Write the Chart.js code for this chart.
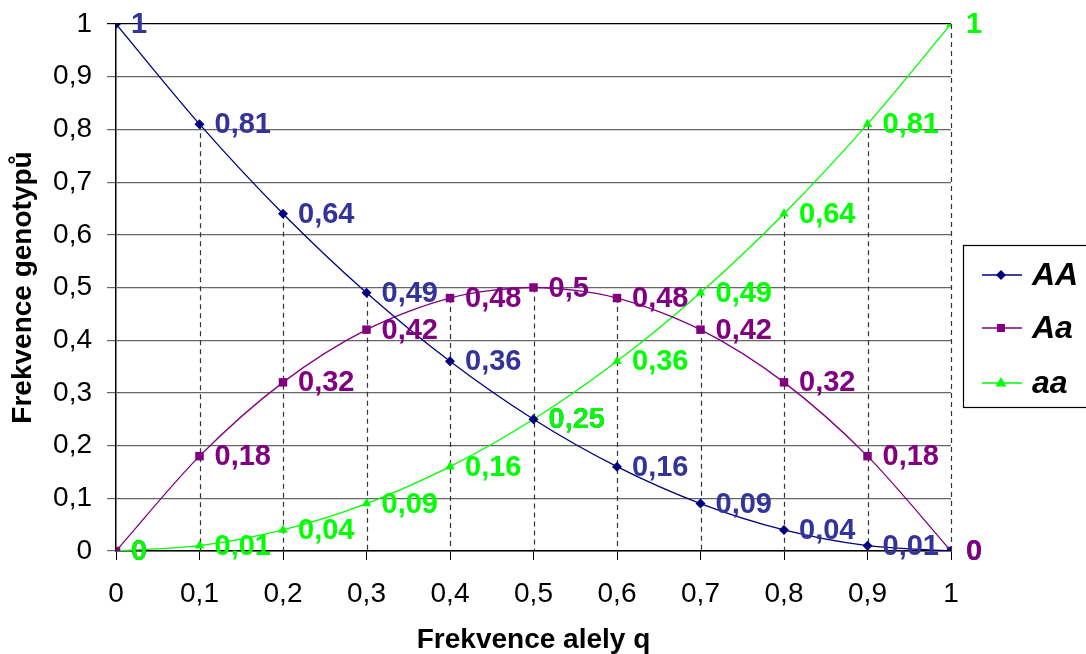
<!DOCTYPE html>
<html>
<head>
<meta charset="utf-8">
<script src="https://cdn.jsdelivr.net/npm/chart.js@4.4.1/dist/chart.umd.min.js"></script>
<style>
  html, body { margin: 0; padding: 0; background: #fff; }
  #wrap { width: 1086px; height: 654px; }
</style>
</head>
<body>
<div id="wrap"><canvas id="grafGenotypy"></canvas></div>
<script>
const alelaQ = [0, 0.1, 0.2, 0.3, 0.4, 0.5, 0.6, 0.7, 0.8, 0.9, 1];
const serieAA = [1, 0.81, 0.64, 0.49, 0.36, 0.25, 0.16, 0.09, 0.04, 0.01, 0];
const serieAa = [0, 0.18, 0.32, 0.42, 0.48, 0.5, 0.48, 0.42, 0.32, 0.18, 0];
const serieaa = [0, 0.01, 0.04, 0.09, 0.16, 0.25, 0.36, 0.49, 0.64, 0.81, 1];
const nazvySerii = ['AA', 'Aa', 'aa'];

const barvyCar = ['#000080', '#800080', '#00ff00'];
const barvyPopisku = ['#333399', '#800080', '#00ff00'];
const tvary = ['rectRot', 'rect', 'triangle'];
const pismo = 'Arial, "Liberation Sans", sans-serif';

function carka(v) {
    return String(v).replace('.', ',');
}

function body(hodnoty) {
    return alelaQ.map((q, i) => ({ x: q, y: hodnoty[i] }));
}

function znacka(c, tvar, x, y) {
    c.beginPath();
    if (tvar === 'rectRot') {
        c.moveTo(x, y - 5); c.lineTo(x + 5, y); c.lineTo(x, y + 5); c.lineTo(x - 5, y);
    } else if (tvar === 'rect') {
        c.rect(x - 4, y - 4, 8, 8);
    } else {
        c.moveTo(x, y - 6); c.lineTo(x + 5.5, y + 3.5); c.lineTo(x - 5.5, y + 3.5);
    }
    c.closePath();
    c.fill();
}

// svislé čárkované čáry od nejvyššího bodu dolů k ose
const spadoveCary = {
    id: 'spadoveCary',
    beforeDatasetsDraw(chart) {
        const c = chart.ctx;
        const sx = chart.scales.x, sy = chart.scales.y;
        c.save();
        c.strokeStyle = '#333';
        c.lineWidth = 1.2;
        c.setLineDash([5, 4]);
        alelaQ.forEach((q, i) => {
            if (i === 0) return;
            const maxY = Math.max(serieAA[i], serieAa[i], serieaa[i]);
            const px = Math.round(sx.getPixelForValue(q)) + 0.5;
            c.beginPath();
            c.moveTo(px, sy.getPixelForValue(maxY));
            c.lineTo(px, sy.getPixelForValue(0));
            c.stroke();
        });
        c.restore();
    },
    afterDatasetsDraw(chart) {
        const c = chart.ctx;
        c.save();
        c.font = 'bold 29px ' + pismo;
        c.textBaseline = 'middle';
        c.textAlign = 'left';
        chart.data.datasets.forEach((ds, di) => {
            const meta = chart.getDatasetMeta(di);
            c.fillStyle = barvyPopisku[di];
            meta.data.forEach((pt, i) => {
                c.fillText(carka(ds.data[i].y), pt.x + 15, pt.y + 1);
            });
        });
        c.restore();
    },
    afterDraw(chart) {
        const c = chart.ctx;
        c.save();
        c.strokeStyle = '#000';
        c.lineWidth = 1.2;
        c.strokeRect(963.5, 245.5, 140, 162);
        const radky = [275, 328, 383];
        nazvySerii.forEach((n, i) => {
            const y = radky[i];
            c.strokeStyle = barvyCar[i];
            c.lineWidth = 1.5;
            c.beginPath();
            c.moveTo(982, y);
            c.lineTo(1022, y);
            c.stroke();
            c.fillStyle = barvyCar[i];
            znacka(c, tvary[i], 1001, y);
            c.fillStyle = '#000';
            c.font = 'italic bold 32px ' + pismo;
            c.textBaseline = 'middle';
            c.textAlign = 'left';
            c.fillText(n, 1032, y + 1);
        });
        c.restore();
    }
};

const serie = [serieAA, serieAa, serieaa];

new Chart(document.getElementById('grafGenotypy'), {
    type: 'line',
    data: {
        datasets: serie.map((s, i) => ({
            label: nazvySerii[i],
            data: body(s),
            borderColor: barvyCar[i],
            backgroundColor: barvyCar[i],
            borderWidth: 1.3,
            pointStyle: tvary[i],
            pointRadius: [5, 6, 5.5][i],
            pointBorderWidth: 0,
            tension: 0.3,
            fill: false
        }))
    },
    options: {
        responsive: true,
        maintainAspectRatio: false,
        animation: false,
        layout: { padding: { left: 0, right: 135, top: 24, bottom: 0 } },
        plugins: {
            legend: { display: false },
            tooltip: { enabled: false }
        },
        scales: {
            x: {
                type: 'linear',
                min: 0,
                max: 1,
                afterFit: s => {
                    s.height = 103;
                    s.paddingLeft = 0;
                    s.paddingRight = 0;
                },
                ticks: {
                    stepSize: 0.1,
                    padding: 17,
                    maxRotation: 0,
                    color: '#000',
                    font: { size: 28, family: pismo },
                    callback: v => carka(Math.round(v * 10) / 10)
                },
                grid: { drawOnChartArea: false, drawTicks: true, tickLength: 9, color: '#000' },
                border: { color: '#000', width: 1.5 },
                title: {
                    display: true,
                    text: 'Frekvence alely q',
                    color: '#000',
                    font: { size: 28, weight: 'bold', family: pismo, lineHeight: 1 },
                    padding: { top: 0, bottom: 0 }
                }
            },
            y: {
                min: 0,
                max: 1,
                afterFit: s => {
                    s.width = 116;
                    s.paddingTop = 0;
                    s.paddingBottom = 0;
                },
                ticks: {
                    stepSize: 0.1,
                    padding: 15,
                    color: '#000',
                    font: { size: 28, family: pismo },
                    callback: v => carka(Math.round(v * 10) / 10)
                },
                grid: {
                    drawTicks: true,
                    tickLength: 9,
                    color: ctx => (ctx.tick && ctx.tick.value === 1) ? '#000' : '#666',
                    lineWidth: 1.2
                },
                border: { color: '#000', width: 1.5 },
                title: {
                    display: true,
                    text: 'Frekvence genotypů',
                    color: '#000',
                    font: { size: 28, weight: 'bold', family: pismo },
                    padding: { top: 6, bottom: 0 }
                }
            }
        }
    },
    plugins: [spadoveCary]
});
</script>
</body>
</html>
